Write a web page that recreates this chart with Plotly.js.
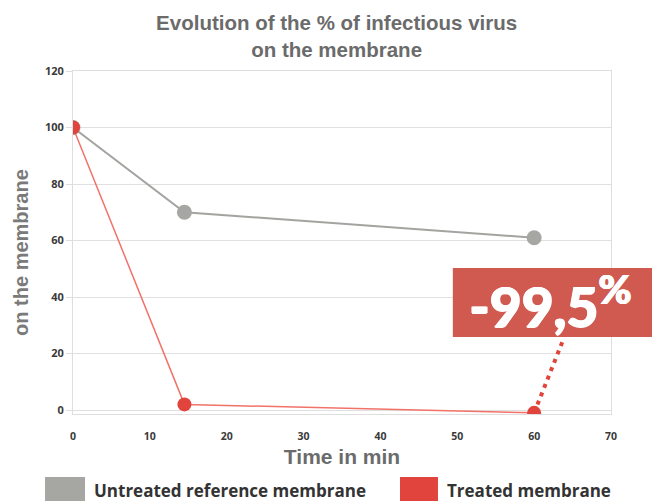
<!DOCTYPE html>
<html>
<head>
<meta charset="utf-8">
<script src="https://cdn.plot.ly/plotly-3.0.1.min.js"></script>
<style>html,body{margin:0;padding:0;background:#fff;}#chart{width:652px;height:501px;}</style>
</head>
<body>
<div id="chart"></div>
<script>
// ---- data ----
var timeMin = [0, 14.5, 60];
var untreated = [100, 70, 61];
var treated = [100, 2, -1];
var seriesNames = ["Untreated reference membrane", "Treated membrane"];
var xTicks = [0, 10, 20, 30, 40, 50, 60, 70];
var yTicks = [0, 20, 40, 60, 80, 100, 120];
var reductionLabel = "-99,5";
var yTitle = "on the membrane";

var grayMarker = "#a6a7a3", grayLine = "#a3a4a0";
var redMarker = "#e0443c", redLine = "#f27269";
var tickFont = {family: "Open Sans", size: 10.5, color: "#3a3a3a", weight: 700};

var traces = [
  {x: timeMin, y: untreated, name: seriesNames[0], type: "scatter", mode: "lines+markers",
   line: {color: grayLine, width: 2}, marker: {color: grayMarker, size: 15}, showlegend: false},
  {x: timeMin, y: treated, name: seriesNames[1], type: "scatter", mode: "lines+markers",
   line: {color: redLine, width: 1.5}, marker: {color: redMarker, size: 14}, showlegend: false}
];

var n = timeMin.length - 1;
var layout = {
  width: 652, height: 501,
  margin: {l: 73, r: 41, t: 71, b: 87},
  paper_bgcolor: "#ffffff", plot_bgcolor: "#ffffff",
  title: {text: "Evolution of the % of infectious virus<br>on the membrane",
          font: {family: "Liberation Sans", size: 20.5, color: "#6b6b6b", weight: 700},
          xref: "paper", x: 0.49, xanchor: "center", yref: "container", y: 0.94, yanchor: "top"},
  xaxis: {range: [0, 70], tickvals: xTicks, ticktext: xTicks.map(String),
          showgrid: false, zeroline: false, showline: true, mirror: true, linecolor: "#dedede", linewidth: 1,
          ticks: "outside", ticklen: 12, tickcolor: "rgba(0,0,0,0)", tickfont: tickFont,
          automargin: true,
          title: {text: "Time in min", font: {family: "Liberation Sans", size: 21, color: "#6b6b6b", weight: 700}, standoff: 7}},
  yaxis: {range: [-1.4, 120], tickvals: yTicks, ticktext: yTicks.map(String),
          showgrid: true, gridcolor: "#e0e0e0", gridwidth: 1, zeroline: false,
          showline: true, mirror: true, linecolor: "#dedede", linewidth: 1,
          ticks: "outside", ticklen: 6, tickcolor: "#dedede",
          tickfont: {family: "Open Sans", size: 11, color: "#3a3a3a", weight: 700}},
  shapes: [
    // dotted connector from last treated point to the label box
    {type: "line", xref: "x", yref: "y", x0: timeMin[n], y0: treated[n], x1: 63.8, y1: 25,
     line: {color: redMarker, width: 4, dash: "4px,5px"}, layer: "above"},
    // label box
    {type: "rect", xref: "paper", yref: "paper", x0: 0.706, x1: 1.3, y0: 0.2245, y1: 0.4257,
     fillcolor: "#d05a50", line: {width: 0}, layer: "above"},
    // legend swatches
    {type: "rect", xref: "paper", yref: "paper", x0: -0.052, x1: 0.0223, y0: -0.29, y1: -0.1837,
     fillcolor: grayMarker, line: {width: 0}},
    {type: "rect", xref: "paper", yref: "paper", x0: 0.6078, x1: 0.6784, y0: -0.29, y1: -0.1837,
     fillcolor: redMarker, line: {width: 0}}
  ],
  annotations: [
    {text: yTitle, xref: "paper", yref: "paper", x: -0.097, y: 0.472, textangle: -90,
     xanchor: "center", yanchor: "middle", showarrow: false,
     font: {family: "Liberation Sans", size: 20, color: "#7a7a7a", weight: 700}},
    {text: reductionLabel + "<sup><span style=\"font-size:40px\">%</span></sup>",
     xref: "paper", yref: "paper", x: 0.733, y: 0.327,
     xanchor: "left", yanchor: "middle", showarrow: false,
     font: {family: "Lato", size: 55, color: "#ffffff", weight: 900,
            shadow: "1px 0 0 #ffffff, -0.5px 0 0 #ffffff, 0 0.5px 0 #ffffff"}},
    {text: seriesNames[0], xref: "paper", yref: "paper", x: 0.0353, y: -0.2216,
     xanchor: "left", yanchor: "middle", showarrow: false,
     font: {family: "Open Sans", size: 17, color: "#333333", weight: 700}},
    {text: seriesNames[1], xref: "paper", yref: "paper", x: 0.6914, y: -0.2216,
     xanchor: "left", yanchor: "middle", showarrow: false,
     font: {family: "Open Sans", size: 17, color: "#333333", weight: 700}}
  ],
  showlegend: false
};

Plotly.newPlot("chart", traces, layout, {displayModeBar: false, staticPlot: true});
</script>
</body>
</html>
